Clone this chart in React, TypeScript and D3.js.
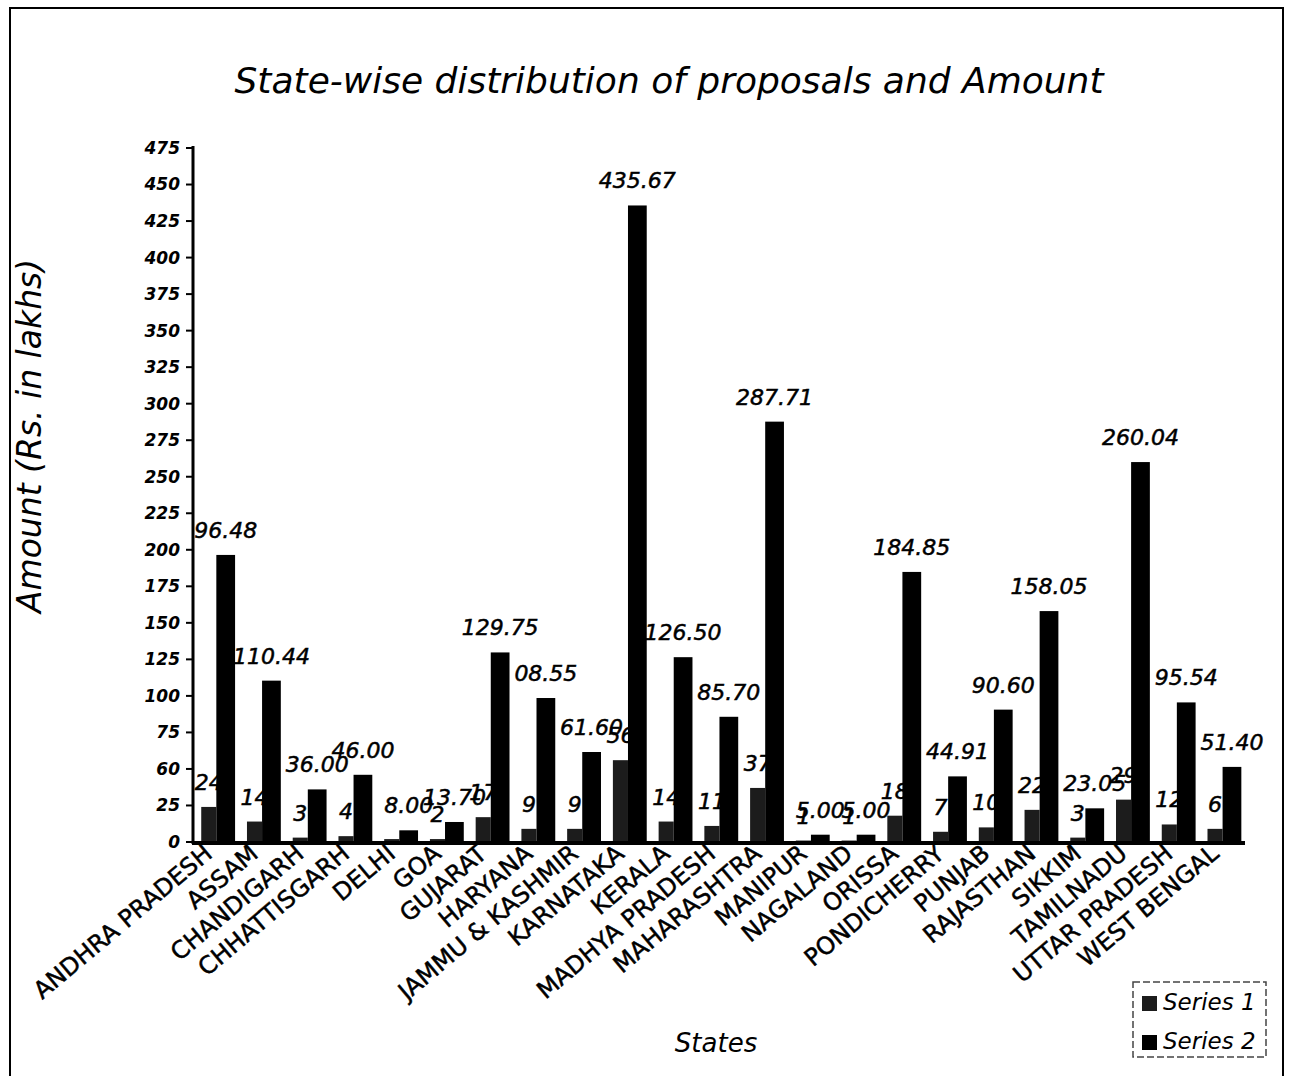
import React from 'react'
import * as d3 from 'd3'

// categories and values
const states = [
    'ANDHRA PRADESH', 'ASSAM', 'CHANDIGARH', 'CHHATTISGARH', 'DELHI', 'GOA', 'GUJARAT',
    'HARYANA', 'JAMMU & KASHMIR', 'KARNATAKA', 'KERALA', 'MADHYA PRADESH', 'MAHARASHTRA',
    'MANIPUR', 'NAGALAND', 'ORISSA', 'PONDICHERRY', 'PUNJAB', 'RAJASTHAN', 'SIKKIM',
    'TAMILNADU', 'UTTAR PRADESH', 'WEST BENGAL'
]

const series1 = [24, 14, 3, 4, 2, 2, 17, 9, 9, 56, 14, 11, 37, 1, 1, 18, 7, 10, 22, 3, 29, 12, 9]
const series1Labels = ['24', '14', '3', '4', '', '2', '17', '9', '9', '56', '14', '11', '37', '1', '1', '18', '7', '10', '22', '3', '29', '12', '6']

const series2 = [196.48, 110.44, 36.0, 46.0, 8.0, 13.7, 129.75, 98.55, 61.6, 435.67, 126.5, 85.7, 287.71, 5.0, 5.0, 184.85, 44.91, 90.6, 158.05, 23.05, 260.04, 95.54, 51.4]
const series2Labels = ['96.48', '110.44', '36.00', '46.00', '8.00', '13.70', '129.75', '08.55', '61.60', '435.67', '126.50', '85.70', '287.71', '5.00', '5.00', '184.85', '44.91', '90.60', '158.05', '23.05', '260.04', '95.54', '51.40']

const yTickValues = [0, 25, 50, 75, 100, 125, 150, 175, 200, 225, 250, 275, 300, 325, 350, 375, 400, 425, 450, 475]
const yTickLabels = ['0', '25', '60', '75', '100', '125', '150', '175', '200', '225', '250', '275', '300', '325', '350', '375', '400', '425', '450', '475']

const seriesNames = ['Series 1', 'Series 2']

const FONT = '"DejaVu Sans", Verdana, sans-serif'
const W = 1289
const H = 1076
const plot = { left: 193, right: 1245, top: 148, bottom: 842 }
const colors = ['#1c1c1c', '#000000']

const x = d3.scaleBand<string>().domain(states).range([plot.left, plot.right]).paddingInner(0).paddingOuter(0)
const y = d3.scaleLinear().domain([0, 475]).range([plot.bottom, plot.top])

/** offsets of the two bars inside a band, as fractions of the band */
const barSlots = [
    { start: 0.18, width: 0.33 },
    { start: 0.51, width: 0.41 }
]

const YAxis = () => (
    <g>
        {yTickValues.map((v, i) => (
            <g key={v} transform={`translate(0, ${y(v)})`}>
                <line x1={plot.left - 7} x2={plot.left + 1} stroke='#000' strokeWidth={2} />
                <text
                    x={plot.left - 13}
                    dy='0.35em'
                    textAnchor='end'
                    fontSize={17}
                    fontWeight='bold'
                    fontStyle='italic'
                >
                    {yTickLabels[i]}
                </text>
            </g>
        ))}
        <line x1={plot.left} x2={plot.left} y1={plot.top - 2} y2={plot.bottom + 2} stroke='#000' strokeWidth={3} />
        <text
            transform={`translate(41, 436) rotate(-90)`}
            textAnchor='middle'
            fontSize={33}
            fontStyle='italic'
        >
            Amount (Rs. in lakhs)
        </text>
    </g>
)

const XAxis = () => (
    <g>
        <line x1={plot.left - 1} x2={plot.right} y1={plot.bottom + 1} y2={plot.bottom + 1} stroke='#000' strokeWidth={4} />
        {states.map((s) => (
            <text
                key={s}
                transform={`translate(${x(s)! + x.bandwidth() / 2 - 2}, ${plot.bottom + 14}) rotate(-40)`}
                textAnchor='end'
                fontSize={24}
                stroke='#000'
                strokeWidth={0.5}
            >
                {s}
            </text>
        ))}
        <text x={716} y={1052} textAnchor='middle' fontSize={26} fontStyle='italic'>States</text>
    </g>
)

const Series = ({ values, slot, color }: { values: number[], slot: number, color: string }) => {
    const bw = x.bandwidth()
    const { start, width } = barSlots[slot]
    return (
        <g>
            {values.map((v, i) => (
                <rect
                    key={i}
                    x={x(states[i])! + bw * start}
                    y={y(v)}
                    width={bw * width}
                    height={plot.bottom - y(v)}
                    fill={color}
                />
            ))}
        </g>
    )
}

const Labels = ({ values, labels, slot }: { values: number[], labels: string[], slot: number }) => {
    const bw = x.bandwidth()
    const { start, width } = barSlots[slot]
    return (
        <g>
            {values.map((v, i) => (
                <text
                    key={i}
                    x={x(states[i])! + bw * (start + width / 2)}
                    y={y(v) - 17}
                    textAnchor='middle'
                    fontSize={22}
                    fontStyle='italic'
                    stroke='#000'
                    strokeWidth={0.5}
                >
                    {labels[i]}
                </text>
            ))}
        </g>
    )
}

const Legend = () => (
    <g transform='translate(1133, 982)'>
        <rect width={133} height={75} fill='#fff' stroke='#444' strokeWidth={1.5} strokeDasharray='7,3' />
        {seriesNames.map((name, i) => (
            <g key={name} transform={`translate(9, ${14 + i * 39})`}>
                <rect width={15} height={15} fill={colors[i]} />
                <text x={21} y={14} fontSize={23} fontStyle='italic'>{name}</text>
            </g>
        ))}
    </g>
)

export default function App () {
    return (
        <div style={{ position: 'absolute', left: 0, top: 0 }}>
            <svg width={W} height={H} fontFamily={FONT} style={{ display: 'block', background: '#fff' }}>
                <rect x={10} y={8} width={1273} height={H + 20} fill='none' stroke='#000' strokeWidth={2} />
                <text x={669} y={93} textAnchor='middle' fontSize={36} fontStyle='italic'>
                    State-wise distribution of proposals and Amount
                </text>
                <Series values={series1} slot={0} color={colors[0]} />
                <Labels values={series1} labels={series1Labels} slot={0} />
                <Series values={series2} slot={1} color={colors[1]} />
                <Labels values={series2} labels={series2Labels} slot={1} />
                <YAxis />
                <XAxis />
                <Legend />
            </svg>
        </div>
    )
}
